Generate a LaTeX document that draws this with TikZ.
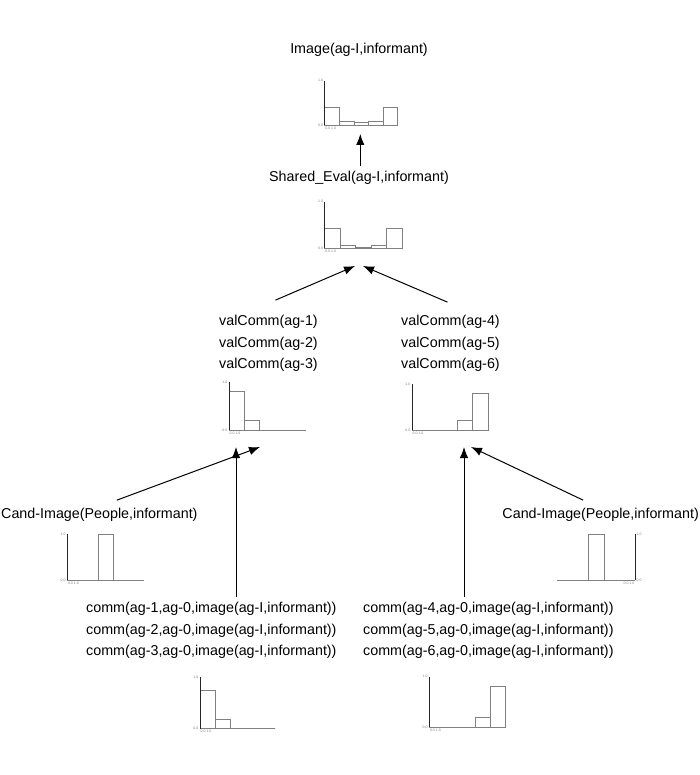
\documentclass[tikz,border=0pt]{standalone}
\usepackage{fontspec}
\setmainfont{Liberation Sans}
\usetikzlibrary{arrows.meta}

\tikzset{
  lbl/.style={font=\fontsize{14.3}{21.5}\selectfont, inner sep=2pt, align=left},
  link/.style={-{Latex[length=11pt,width=8.5pt]}, line width=1pt},
  axisline/.style={line width=1pt, draw=black!85},
  bar/.style={draw=gray, line width=0.7pt},
  tick/.style={font=\fontsize{3.5}{4}\selectfont, inner sep=0.5pt, text=gray}
}

% \histo{axis x}{baseline y}{bin width}{axis height}{bar heights}
\newcommand\histo[5]{%
  \draw[bar] (#1,#2) -- ++(5*#3,0);
  \foreach \h [count=\k from 0] in {#5}
    \draw[bar] (#1+\k*#3,#2) rectangle ++(#3,-\h);
  \draw[axisline] (#1,#2) -- ++(0,-#4);
  \node[tick, anchor=east] at (#1-1,#2-#4) {1.0};
  \node[tick, anchor=east] at (#1-1,#2) {0.0};
  \node[tick, anchor=north west] at (#1,#2+1) {0.0 1.0};
}

\begin{document}
\begin{tikzpicture}[x=1pt,y=-1pt]
  \useasboundingbox[fill=white] (0,0) rectangle (700,775);

  % Labels
  \node[lbl] (img) at (359,50) {Image(ag-I,informant)};
  \node[lbl] (eval) at (359,178) {Shared\_Eval(ag-I,informant)};
  \node[lbl, anchor=west] (vl) at (217,343.5) {valComm(ag-1)\\valComm(ag-2)\\valComm(ag-3)};
  \node[lbl, anchor=west] (vr) at (399,343.5) {valComm(ag-4)\\valComm(ag-5)\\valComm(ag-6)};
  \node[lbl, anchor=west] (candl) at (-1,515) {Cand-Image(People,informant)};
  \node[lbl, anchor=east] (candr) at (701,515) {Cand-Image(People,informant)};
  \node[lbl, anchor=west] (comml) at (84,630.5) {comm(ag-1,ag-0,image(ag-I,informant))\\comm(ag-2,ag-0,image(ag-I,informant))\\comm(ag-3,ag-0,image(ag-I,informant))};
  \node[lbl, anchor=west] (commr) at (361,630.5) {comm(ag-4,ag-0,image(ag-I,informant))\\comm(ag-5,ag-0,image(ag-I,informant))\\comm(ag-6,ag-0,image(ag-I,informant))};

  % Histograms
  \histo{324.7}{125.3}{14.6}{44.6}{17.6,4,2.6,4,17.6}
  \histo{324.7}{248}{15.46}{46.3}{19.3,2.7,0.3,2.7,19.3}
  \histo{229}{430.3}{15.3}{48}{38.6,10,0,0,0}
  \histo{412}{430.3}{15.2}{46}{0,0,0,9.6,37}
  \histo{67.3}{580}{15.3}{45.7}{0,0,45.7,0,0}
  \histo{200}{728.7}{15}{51.4}{38,9.4,0,0,0}
  \histo{429.3}{727.3}{15.3}{50.6}{0,0,0,10,40.6}
  % mirrored one
  \draw[bar] (557.3,580) -- (635,580);
  \draw[bar] (588.8,580) rectangle (604.1,534.3);
  \draw[axisline] (635,580) -- (635,534.3);
  \node[tick, anchor=west] at (636,534.3) {1.0};
  \node[tick, anchor=west] at (636,580) {0.0};
  \node[tick, anchor=north east] at (635,581) {0.0 1.0};

  % Arrow ends
  \coordinate (t1) at (360.3,134);
  \coordinate (t2l) at (355,266);
  \coordinate (t2r) at (363,266);
  \coordinate (t3d) at (260,447);
  \coordinate (t3v) at (236,447);
  \coordinate (t4v) at (464,447);
  \coordinate (t4d) at (471,447);

  % Connections
  \draw[link] ([yshift=3pt]eval.north -| t1) -- (t1);
  \draw[link] ([xshift=7pt,yshift=13pt]vl.north) -- (t2l);
  \draw[link] ([xshift=-3pt,yshift=11pt]vr.north) -- (t2r);
  \draw[link] ([xshift=17.5pt,yshift=6pt]candl.north) -- (t3d);
  \draw[link] ([yshift=3pt]comml.north -| t3v) -- (t3v);
  \draw[link] ([yshift=3pt]commr.north -| t4v) -- (t4v);
  \draw[link] ([xshift=-17.5pt,yshift=6pt]candr.north) -- (t4d);
\end{tikzpicture}
\end{document}
